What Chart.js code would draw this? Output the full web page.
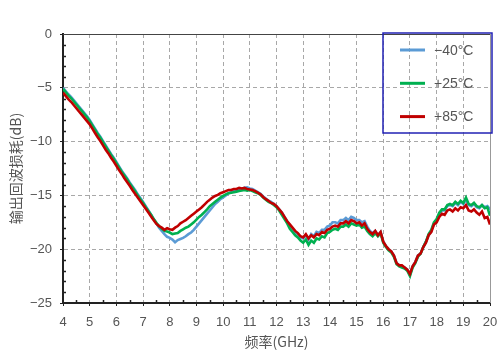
<!DOCTYPE html>
<html>
<head>
<meta charset="utf-8">
<script src="https://cdn.jsdelivr.net/npm/chart.js@4"></script>
<style>
  html, body { margin: 0; padding: 0; background: #fff; }
  #wrap { width: 500px; height: 352px; }
</style>
</head>
<body>
<div id="wrap"><canvas id="lossChart"></canvas></div>
<script>
// frequency points (GHz)
var freq = [
    4.0, 4.1, 4.2, 4.3, 4.4, 4.5, 4.6, 4.7, 4.8, 4.9,
    5.0, 5.1, 5.2, 5.3, 5.4, 5.5, 5.6, 5.7, 5.8, 5.9,
    6.0, 6.1, 6.2, 6.3, 6.4, 6.5, 6.6, 6.7, 6.8, 6.9,
    7.0, 7.1, 7.2, 7.3, 7.4, 7.5, 7.6, 7.7, 7.8, 7.9,
    8.0, 8.1, 8.2, 8.3, 8.4, 8.5, 8.6, 8.7, 8.8, 8.9,
    9.0, 9.1, 9.2, 9.3, 9.4, 9.5, 9.6, 9.7, 9.8, 9.9,
    10.0, 10.1, 10.2, 10.3, 10.4, 10.5, 10.6, 10.7, 10.8, 10.9,
    11.0, 11.1, 11.2, 11.3, 11.4, 11.5, 11.6, 11.7, 11.8, 11.9,
    12.0, 12.1, 12.2, 12.3, 12.4, 12.5, 12.6, 12.7, 12.8, 12.9,
    13.0, 13.1, 13.2, 13.3, 13.4, 13.5, 13.6, 13.7, 13.8, 13.9,
    14.0, 14.1, 14.2, 14.3, 14.4, 14.5, 14.6, 14.7, 14.8, 14.9,
    15.0, 15.1, 15.2, 15.3, 15.4, 15.5, 15.6, 15.7, 15.8, 15.9,
    16.0, 16.1, 16.2, 16.3, 16.4, 16.5, 16.6, 16.7, 16.8, 16.9,
    17.0, 17.1, 17.2, 17.3, 17.4, 17.5, 17.6, 17.7, 17.8, 17.9,
    18.0, 18.1, 18.2, 18.3, 18.4, 18.5, 18.6, 18.7, 18.8, 18.9,
    19.0, 19.1, 19.2, 19.3, 19.4, 19.5, 19.6, 19.7, 19.8, 19.9,
    20.0
];
// -40C
var lossM40 = [
    -5.0, -5.3, -5.6, -5.85, -6.15, -6.45, -6.75, -7.05, -7.35, -7.65,
    -8.0, -8.4, -8.8, -9.2, -9.55, -9.95, -10.35, -10.75, -11.15, -11.5,
    -11.9, -12.3, -12.7, -13.05, -13.4, -13.8, -14.15, -14.5, -14.9, -15.25,
    -15.6, -16.0, -16.4, -16.8, -17.2, -17.6, -18.0, -18.3, -18.6, -18.85,
    -18.95, -19.1, -19.35, -19.15, -19.05, -18.95, -18.8, -18.6, -18.45, -18.2,
    -17.9, -17.6, -17.3, -17.0, -16.7, -16.4, -16.1, -15.8, -15.6, -15.35,
    -15.2, -15.0, -14.8, -14.7, -14.6, -14.5, -14.45, -14.4, -14.3, -14.25,
    -14.35, -14.4, -14.55, -14.7, -14.85, -15.1, -15.3, -15.5, -15.6, -15.8,
    -16.0, -16.3, -16.6, -17.0, -17.4, -17.8, -18.1, -18.4, -18.6, -18.9,
    -19.0, -18.7, -19.1, -18.6, -18.8, -18.4, -18.5, -18.2, -18.2, -17.9,
    -17.8, -17.5, -17.5, -17.6, -17.3, -17.3, -17.1, -17.3, -17.0, -17.1,
    -17.3, -17.3, -17.5, -17.4, -17.9, -18.3, -18.5, -18.3, -18.7, -18.4,
    -19.3, -19.7, -20.0, -20.2, -20.6, -21.3, -21.5, -21.6, -21.7, -21.9,
    -22.4, -21.6, -21.2, -20.6, -20.4, -19.8, -19.3, -18.7, -18.3, -17.6,
    -17.3, -16.7, -16.4, -16.4, -16.0, -15.9, -16.0, -15.7, -15.9, -15.6,
    -15.8, -15.4, -15.9, -16.0, -15.8, -16.1, -16.2, -15.9, -16.1, -16.0,
    -16.3
];
// +25C
var loss25 = [
    -5.1, -5.4, -5.7, -5.95, -6.25, -6.55, -6.85, -7.15, -7.45, -7.75,
    -8.1, -8.5, -8.9, -9.3, -9.65, -10.05, -10.45, -10.85, -11.25, -11.6,
    -12.0, -12.4, -12.8, -13.15, -13.5, -13.9, -14.25, -14.6, -15.0, -15.35,
    -15.7, -16.1, -16.45, -16.8, -17.2, -17.55, -17.85, -18.1, -18.3, -18.35,
    -18.45, -18.6, -18.55, -18.5, -18.3, -18.15, -18.0, -17.9, -17.7, -17.5,
    -17.25, -17.0, -16.8, -16.55, -16.3, -16.0, -15.8, -15.6, -15.4, -15.2,
    -15.05, -14.9, -14.8, -14.75, -14.7, -14.65, -14.6, -14.55, -14.5, -14.55,
    -14.5, -14.6, -14.7, -14.8, -14.95, -15.2, -15.4, -15.6, -15.7, -15.9,
    -16.1, -16.4, -16.8, -17.2, -17.6, -18.1, -18.4, -18.7, -18.9, -19.2,
    -19.4, -19.1, -19.6, -19.2, -19.4, -19.0, -19.1, -18.8, -18.9, -18.5,
    -18.4, -18.2, -18.1, -18.2, -17.9, -17.9, -17.7, -17.9, -17.6, -17.7,
    -17.8, -17.7, -18.0, -17.9, -18.3, -18.6, -18.8, -18.5, -18.8, -18.5,
    -19.4, -19.8, -20.1, -20.3, -20.7, -21.4, -21.6, -21.7, -21.8, -22.0,
    -22.5, -21.7, -21.3, -20.7, -20.4, -19.8, -19.3, -18.6, -18.2, -17.5,
    -17.2, -16.6, -16.3, -16.3, -15.9, -15.8, -15.9, -15.6, -15.8, -15.5,
    -15.7, -15.2, -15.8, -15.9, -15.7, -16.0, -16.1, -15.9, -16.2, -16.1,
    -16.9
];
// +85C
var loss85 = [
    -5.45, -5.75, -6.05, -6.3, -6.6, -6.9, -7.2, -7.5, -7.8, -8.1,
    -8.4, -8.8, -9.2, -9.6, -9.95, -10.35, -10.75, -11.1, -11.5, -11.85,
    -12.25, -12.65, -13.0, -13.4, -13.75, -14.1, -14.5, -14.85, -15.2, -15.55,
    -15.9, -16.25, -16.6, -16.95, -17.3, -17.65, -17.85, -18.0, -18.2, -18.05,
    -18.15, -18.2, -18.0, -17.85, -17.6, -17.45, -17.3, -17.1, -16.9, -16.7,
    -16.5, -16.3, -16.1, -15.85, -15.6, -15.4, -15.2, -15.05, -14.95, -14.8,
    -14.7, -14.6, -14.5, -14.5, -14.4, -14.4, -14.3, -14.35, -14.3, -14.4,
    -14.45, -14.5, -14.6, -14.75, -14.9, -15.15, -15.35, -15.5, -15.7, -15.8,
    -16.0, -16.3, -16.6, -17.0, -17.4, -17.7, -18.0, -18.3, -18.5, -18.8,
    -18.9, -18.6, -19.0, -18.7, -18.9, -18.6, -18.7, -18.4, -18.5, -18.2,
    -18.1, -17.9, -17.8, -17.9, -17.6, -17.6, -17.4, -17.6, -17.3, -17.4,
    -17.6, -17.5, -17.8, -17.6, -18.1, -18.4, -18.6, -18.3, -18.7, -18.4,
    -19.3, -19.7, -20.0, -20.2, -20.6, -21.3, -21.5, -21.5, -21.7, -21.9,
    -22.3, -21.6, -21.2, -20.6, -20.4, -19.8, -19.4, -18.7, -18.4, -17.7,
    -17.5, -17.0, -16.7, -16.8, -16.4, -16.3, -16.5, -16.2, -16.4, -16.1,
    -16.2, -15.9, -16.4, -16.5, -16.3, -16.6, -16.8, -16.5, -17.1, -17.0,
    -17.7
];
var seriesNames = ['\u221240\u00b0C', '+25\u00b0C', '+85\u00b0C'];
var seriesColors = ['#5b9bd5', '#00b050', '#c00000'];
var seriesValues = [lossM40, loss25, loss85];
var xTicks = [4, 20, 1];
var yTicks = [-25, 0, 5];

/*Build xy points from the arrays*/
function toPoints(values) {
    var pts = [];
    for (var i = 0; i < freq.length; i++) {
        pts.push({ x: freq[i], y: values[i] });
    }
    return pts;
}

/*Minor ticks, frame and legend box*/
var framePlugin = {
    id: 'frame',
    afterDraw: function (chart) {
        var ctx = chart.ctx;
        var a = chart.chartArea;
        var xs = chart.scales.x, ys = chart.scales.y;
        ctx.save();
        // minor ticks, pointing inward
        ctx.strokeStyle = '#222';
        ctx.lineWidth = 1.5;
        ctx.beginPath();
        for (var v = xTicks[0] + 0.5; v < xTicks[1]; v += 1) {
            var px = Math.round(xs.getPixelForValue(v)) + 0.5;
            ctx.moveTo(px, a.bottom);
            ctx.lineTo(px, a.bottom - 3);
        }
        for (var w = yTicks[0] + 1; w < yTicks[1]; w += 1) {
            if (w % 5 === 0) continue;
            var py = Math.round(ys.getPixelForValue(w)) + 0.5;
            ctx.moveTo(a.left, py);
            ctx.lineTo(a.left + 3, py);
        }
        ctx.stroke();
        // top and right edges
        ctx.strokeStyle = '#444';
        ctx.lineWidth = 1;
        ctx.beginPath();
        ctx.moveTo(a.left, a.top + 0.5);
        ctx.lineTo(a.right, a.top + 0.5);
        ctx.stroke();
        ctx.strokeStyle = '#999';
        ctx.beginPath();
        ctx.moveTo(a.right + 0.5, a.top);
        ctx.lineTo(a.right + 0.5, a.bottom);
        ctx.stroke();
        // legend box
        var bx = a.right - 107, by = a.top - 1, bw = 109, bh = 100;
        ctx.strokeStyle = '#2222b4';
        ctx.lineWidth = 1.5;
        ctx.strokeRect(bx, by, bw, bh);
        ctx.font = '14px "Liberation Sans", Arial, sans-serif';
        ctx.textBaseline = 'middle';
        ctx.textAlign = 'left';
        for (var k = 0; k < seriesNames.length; k++) {
            var ly = by + 17 + k * 33.3;
            ctx.strokeStyle = seriesColors[k];
            ctx.lineWidth = 3;
            ctx.beginPath();
            ctx.moveTo(bx + 17, ly);
            ctx.lineTo(bx + 42, ly);
            ctx.stroke();
            ctx.fillStyle = '#555';
            ctx.fillText(seriesNames[k], bx + 51, ly + 1);
        }
        ctx.restore();
    }
};

/*Draw chart*/
function DrawLossChart() {
    var datasets = [];
    for (var i = 0; i < seriesValues.length; i++) {
        datasets.push({
            label: seriesNames[i],
            data: toPoints(seriesValues[i]),
            borderColor: seriesColors[i],
            borderWidth: 2.6,
            pointRadius: 0,
            tension: 0,
            fill: false,
            order: seriesValues.length - i
        });
    }
    var chartDiv = document.getElementById('lossChart');
    var myChart = new Chart(chartDiv, {
        type: 'line',
        data: { datasets: datasets },
        plugins: [framePlugin],
        options: {
            responsive: true,
            maintainAspectRatio: false,
            animation: false,
            layout: { padding: { top: 34, right: 10, left: 0, bottom: 0 } },
            plugins: {
                legend: { display: false },
                tooltip: { enabled: false }
            },
            scales: {
                x: {
                    type: 'linear',
                    min: xTicks[0],
                    max: xTicks[1],
                    afterFit: function (s) {
                        s.height = 49;
                        s.paddingLeft = 0;
                        s.paddingRight = 0;
                    },
                    ticks: {
                        stepSize: xTicks[2],
                        color: '#555',
                        padding: 9,
                        maxRotation: 0,
                        font: { family: '"Liberation Sans", Arial, sans-serif', size: 13 }
                    },
                    grid: {
                        color: '#a8a8a8',
                        tickColor: '#222',
                        tickLength: 3,
                        lineWidth: 1
                    },
                    border: { color: '#222', width: 2, dash: [4, 3] },
                    title: {
                        display: true,
                        text: '频率(GHz)',
                        color: '#555',
                        padding: { top: 0, bottom: 2 },
                        font: { family: '"Noto Sans CJK SC", sans-serif', size: 14 }
                    }
                },
                y: {
                    min: yTicks[0],
                    max: yTicks[1],
                    afterFit: function (s) {
                        s.width = 63;
                        s.paddingTop = 0;
                        s.paddingBottom = 0;
                    },
                    ticks: {
                        stepSize: yTicks[2],
                        color: '#555',
                        padding: 8,
                        font: { family: '"Liberation Sans", Arial, sans-serif', size: 13 },
                        callback: function (v) { return v < 0 ? '\u2212' + Math.abs(v) : '' + v; }
                    },
                    grid: {
                        color: '#a8a8a8',
                        tickColor: '#222',
                        tickLength: 3,
                        lineWidth: 1
                    },
                    border: { color: '#222', width: 2, dash: [4, 3] },
                    title: {
                        display: true,
                        text: '输出回波损耗(dB)',
                        color: '#555',
                        padding: { top: 7, bottom: 0 },
                        font: { family: '"Noto Sans CJK SC", sans-serif', size: 14 }
                    }
                }
            }
        }
    });
}

DrawLossChart();
</script>
</body>
</html>
